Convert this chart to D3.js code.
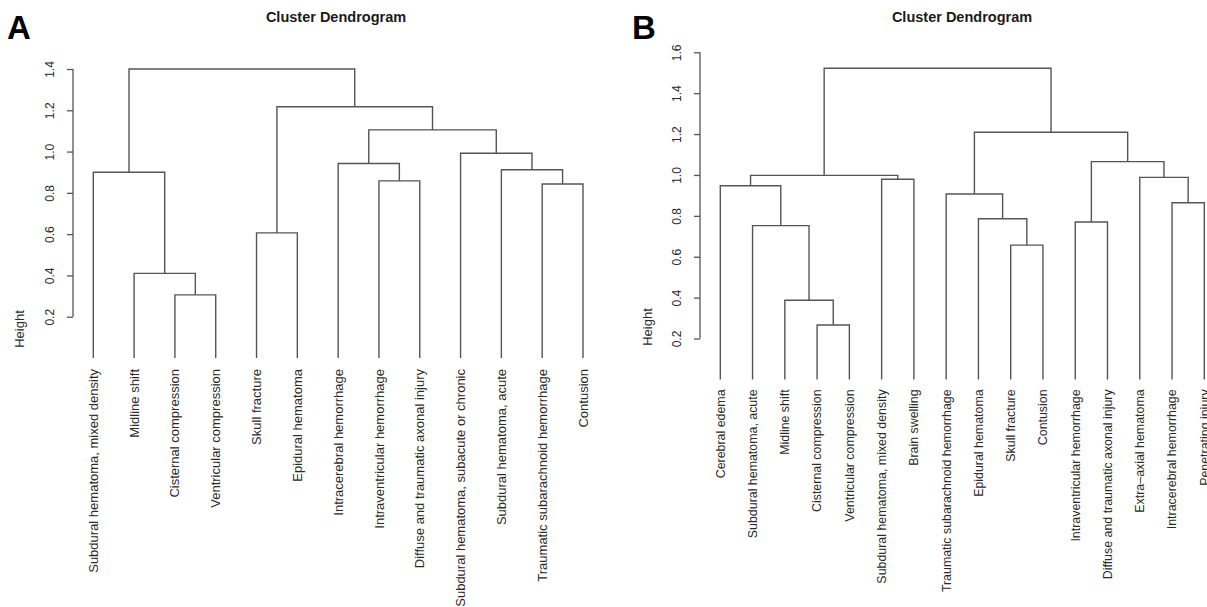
<!DOCTYPE html>
<html>
<head>
<meta charset="utf-8">
<script src="https://cdn.jsdelivr.net/npm/d3@7"></script>
<style>
  html, body { margin: 0; padding: 0; background: #fff; }
  svg { display: block; font-family: "Liberation Sans", Arial, Helvetica, sans-serif; }
</style>
</head>
<body>
<svg id="chart" width="1207" height="607"></svg>
<script>
// ---------- Panel A data ----------
const labelsA = [
  "Subdural hematoma, mixed density", "Midline shift", "Cisternal compression",
  "Ventricular compression", "Skull fracture", "Epidural hematoma",
  "Intracerebral hemorrhage", "Intraventricular hemorrhage",
  "Diffuse and traumatic axonal injury", "Subdural hematoma, subacute or chronic",
  "Subdural hematoma, acute", "Traumatic subarachnoid hemorrhage", "Contusion"
];
// R-style merge matrix: negative = leaf index (1-based), positive = earlier merge step
const mergeA = [
  [-3, -4], [-2, 1], [-1, 2], [-5, -6], [-12, -13], [-8, -9],
  [-11, 5], [-7, 6], [-10, 7], [8, 9], [4, 10], [3, 11]
];
const heightA = [0.306, 0.41, 0.90, 0.606, 0.843, 0.858, 0.912, 0.942, 0.992, 1.105, 1.217, 1.40];
const ticksA = [0.2, 0.4, 0.6, 0.8, 1.0, 1.2, 1.4];

// ---------- Panel B data ----------
const labelsB = [
  "Cerebral edema", "Subdural hematoma, acute", "Midline shift", "Cisternal compression",
  "Ventricular compression", "Subdural hematoma, mixed density", "Brain swelling",
  "Traumatic subarachnoid hemorrhage", "Epidural hematoma", "Skull fracture", "Contusion",
  "Intraventricular hemorrhage", "Diffuse and traumatic axonal injury",
  "Extra\u2013axial hematoma", "Intracerebral hemorrhage", "Penetrating injury"
];
const mergeB = [
  [-4, -5], [-3, 1], [-2, 2], [-1, 3], [-6, -7], [4, 5],
  [-10, -11], [-9, 7], [-8, 8], [-12, -13], [-15, -16], [-14, 11],
  [10, 12], [9, 13], [6, 14]
];
const heightB = [0.266, 0.387, 0.752, 0.947, 0.979, 0.998, 0.657, 0.786, 0.907,
                 0.770, 0.864, 0.988, 1.065, 1.209, 1.522];
const ticksB = [0.2, 0.4, 0.6, 0.8, 1.0, 1.2, 1.4, 1.6];

const titleText = "Cluster Dendrogram";
const yLabel = "Height";

const svg = d3.select("#chart");
const LINE = "#555";
const TEXT = "#2a2a2a";

function drawPanel(cfg) {
  const { labels, merge, heights, ticks, xRange, yDomainMax, yRange,
          letter, letterX, titleX, heightX, heightY, labelGap, labelSize } = cfg;
  const x = d3.scalePoint().domain(labels).range(xRange);
  const y = d3.scaleLinear().domain([0, yDomainMax]).range(yRange);
  const g = svg.append("g");

  // node positions
  const nodePos = []; // for merges
  function pos(ref) {
    if (ref < 0) return { x: x(labels[-ref - 1]), h: 0 };
    return nodePos[ref - 1];
  }
  merge.forEach((m, i) => {
    const a = pos(m[0]), b = pos(m[1]);
    const h = heights[i];
    nodePos.push({ x: (a.x + b.x) / 2, h: h });
    const path = d3.path();
    path.moveTo(a.x, y(a.h));
    path.lineTo(a.x, y(h));
    path.lineTo(b.x, y(h));
    path.lineTo(b.x, y(b.h));
    g.append("path").attr("d", path.toString())
      .attr("fill", "none").attr("stroke", LINE).attr("stroke-width", 1.4);
  });

  // leaf labels
  g.selectAll("text.leaf").data(labels).enter().append("text")
    .attr("class", "leaf")
    .attr("transform", d => `translate(${x(d)},${y(0) + labelGap}) rotate(-90)`)
    .attr("dy", "0.35em")
    .attr("text-anchor", "end")
    .attr("font-size", labelSize)
    .attr("fill", TEXT)
    .text(d => d);

  // y axis
  const axisX = xRange[0] - 20.3;
  const axisG = g.append("g").attr("transform", `translate(${axisX},0)`)
    .call(d3.axisLeft(y).tickValues(ticks).tickFormat(d3.format(".1f")).tickSize(6).tickSizeOuter(0));
  axisG.select(".domain").remove();
  axisG.selectAll(".tick line").attr("stroke", LINE).attr("stroke-width", 1.3);
  axisG.selectAll(".tick text")
    .attr("transform", "rotate(-90)")
    .attr("x", 0).attr("y", -23).attr("dy", "0.35em")
    .attr("text-anchor", "middle")
    .attr("font-size", 12)
    .attr("font-family", "Liberation Sans, Arial, sans-serif")
    .attr("fill", TEXT);
  axisG.append("line")
    .attr("x1", 0).attr("x2", 0)
    .attr("y1", y(ticks[0])).attr("y2", y(ticks[ticks.length - 1]))
    .attr("stroke", LINE).attr("stroke-width", 1.3);

  // y label
  g.append("text")
    .attr("transform", `translate(${heightX},${heightY}) rotate(-90)`)
    .attr("dy", "0.35em").attr("text-anchor", "middle")
    .attr("font-size", 13).attr("fill", TEXT).text(yLabel);

  // title
  g.append("text").attr("x", titleX).attr("y", 22)
    .attr("text-anchor", "middle").attr("font-weight", "bold")
    .attr("font-size", 14.5).attr("fill", "#1a1a1a").text(titleText);

  // panel letter
  g.append("text").attr("x", letterX).attr("y", 39)
    .attr("font-weight", "bold").attr("font-size", 33)
    .attr("fill", "#000").text(letter);
}

drawPanel({
  labels: labelsA, merge: mergeA, heights: heightA, ticks: ticksA,
  xRange: [93.3, 583], yDomainMax: 1.4, yRange: [358, 69],
  letter: "A", letterX: 7, titleX: 336, heightX: 19, heightY: 329,
  labelGap: 11, labelSize: 13
});

drawPanel({
  labels: labelsB, merge: mergeB, heights: heightB, ticks: ticksB,
  xRange: [720.3, 1204.3], yDomainMax: 1.6, yRange: [379.4, 52.3],
  letter: "B", letterX: 632, titleX: 962, heightX: 647, heightY: 327,
  labelGap: 10, labelSize: 12.4
});
</script>
</body>
</html>
